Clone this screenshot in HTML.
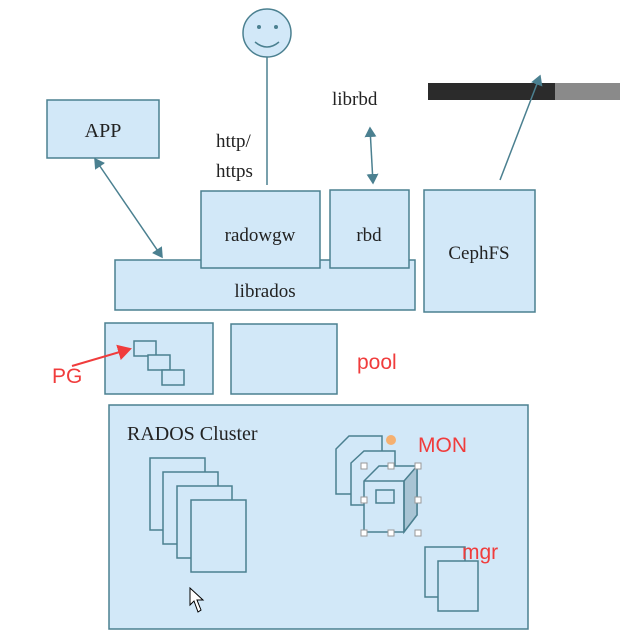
<!DOCTYPE html>
<html><head><meta charset="utf-8"><style>
html,body{margin:0;padding:0;background:#fff;}
svg{display:block}
.b{fill:#d2e8f8;stroke:#4b8090;stroke-width:1.5}
.t{font-family:"Liberation Serif",serif;fill:#222}
.r{font-family:"Liberation Sans",sans-serif;fill:#f03c3c}
</style></head><body>
<svg width="620" height="632" viewBox="0 0 620 632">
<defs>
<marker id="a" markerWidth="8" markerHeight="8" refX="6" refY="4" orient="auto-start-reverse"><path d="M0,0 L7,4 L0,8 z" fill="#4b8090"/></marker>
<marker id="ra" markerWidth="8" markerHeight="8" refX="6" refY="4" orient="auto"><path d="M0,0 L7,4 L0,8 z" fill="#f03c3c"/></marker>
</defs>
<!-- smiley -->
<circle cx="267" cy="33" r="24" fill="#d2e8f8" stroke="#4b8090" stroke-width="1.5"/>
<circle cx="259" cy="27" r="2" fill="#4b8090"/><circle cx="276" cy="27" r="2" fill="#4b8090"/>
<path d="M255,42 Q267,52 279,42" fill="none" stroke="#4b8090" stroke-width="1.5"/>
<line x1="267" y1="57" x2="267" y2="185" stroke="#4b8090" stroke-width="1.5"/>
<text class="t" x="216" y="147" font-size="19">http/</text>
<text class="t" x="216" y="177" font-size="19">https</text>
<text class="t" x="332" y="105" font-size="19">librbd</text>
<line x1="370" y1="128" x2="373" y2="183" stroke="#4b8090" stroke-width="1.5" marker-start="url(#a)" marker-end="url(#a)"/>
<rect x="428" y="83" width="127" height="17" fill="#2b2b2b"/>
<rect x="555" y="83" width="65" height="17" fill="#8a8a8a"/>
<line x1="500" y1="180" x2="540" y2="76" stroke="#4b8090" stroke-width="1.5" marker-end="url(#a)"/>
<rect class="b" x="47" y="100" width="112" height="58"/>
<text class="t" x="103" y="137" font-size="20" text-anchor="middle">APP</text>
<line x1="95" y1="159" x2="162" y2="257" stroke="#4b8090" stroke-width="1.5" marker-start="url(#a)" marker-end="url(#a)"/>
<rect class="b" x="115" y="260" width="300" height="50"/>
<text class="t" x="265" y="297" font-size="19" text-anchor="middle">librados</text>
<rect class="b" x="201" y="191" width="119" height="77"/>
<text class="t" x="260" y="241" font-size="19" text-anchor="middle">radowgw</text>
<rect class="b" x="330" y="190" width="79" height="78"/>
<text class="t" x="369" y="241" font-size="19" text-anchor="middle">rbd</text>
<rect class="b" x="424" y="190" width="111" height="122"/>
<text class="t" x="479" y="259" font-size="19" text-anchor="middle">CephFS</text>
<rect class="b" x="105" y="323" width="108" height="71"/>
<rect class="b" x="134" y="341" width="22" height="15"/>
<rect class="b" x="148" y="355" width="22" height="15"/>
<rect class="b" x="162" y="370" width="22" height="15"/>
<rect class="b" x="231" y="324" width="106" height="70"/>
<text class="r" x="357" y="369" font-size="21">pool</text>
<text class="r" x="52" y="383" font-size="21">PG</text>
<line x1="72" y1="366" x2="130" y2="349" stroke="#f03c3c" stroke-width="2" marker-end="url(#ra)"/>
<rect class="b" x="109" y="405" width="419" height="224"/>
<text class="t" x="127" y="440" font-size="20">RADOS Cluster</text>
<rect class="b" x="150" y="458" width="55" height="72"/>
<rect class="b" x="163" y="472" width="55" height="72"/>
<rect class="b" x="177" y="486" width="55" height="72"/>
<rect class="b" x="191" y="500" width="55" height="72"/>
<!-- cubes -->
<g stroke="#4b8090" stroke-width="1.5" fill="#d2e8f8">
<path d="M336,449 L349,436 L382,436 L382,480 L369,494 L336,494 Z"/>
<path d="M351,463 L364,451 L395,451 L395,492 L382,505 L351,505 Z"/>
<path d="M364,481 L379,466 L417,466 L417,515 L404,532 L364,532 Z"/>
<path d="M404,481 L417,466 L417,515 L404,532 Z" fill="#a8c4d4"/>
<path d="M364,481 L404,481 L404,532" fill="none"/>
<rect x="376" y="490" width="18" height="13"/>
</g>
<circle cx="391" cy="440" r="5" fill="#f5b070"/>
<g fill="#fff" stroke="#999" stroke-width="1">
<rect x="361" y="463" width="6" height="6"/><rect x="388" y="463" width="6" height="6"/><rect x="415" y="463" width="6" height="6"/>
<rect x="361" y="497" width="6" height="6"/><rect x="415" y="497" width="6" height="6"/>
<rect x="361" y="530" width="6" height="6"/><rect x="388" y="530" width="6" height="6"/><rect x="415" y="530" width="6" height="6"/>
</g>
<text class="r" x="418" y="452" font-size="21">MON</text>
<rect class="b" x="425" y="547" width="40" height="50"/>
<rect class="b" x="438" y="561" width="40" height="50"/>
<text class="r" x="462" y="559" font-size="21">mgr</text>
<path d="M190,588 L190,605 L194,601 L198,612 L201,610 L197,600 L203,600 Z" fill="#fff" stroke="#000" stroke-width="1"/>
</svg>
</body></html>
